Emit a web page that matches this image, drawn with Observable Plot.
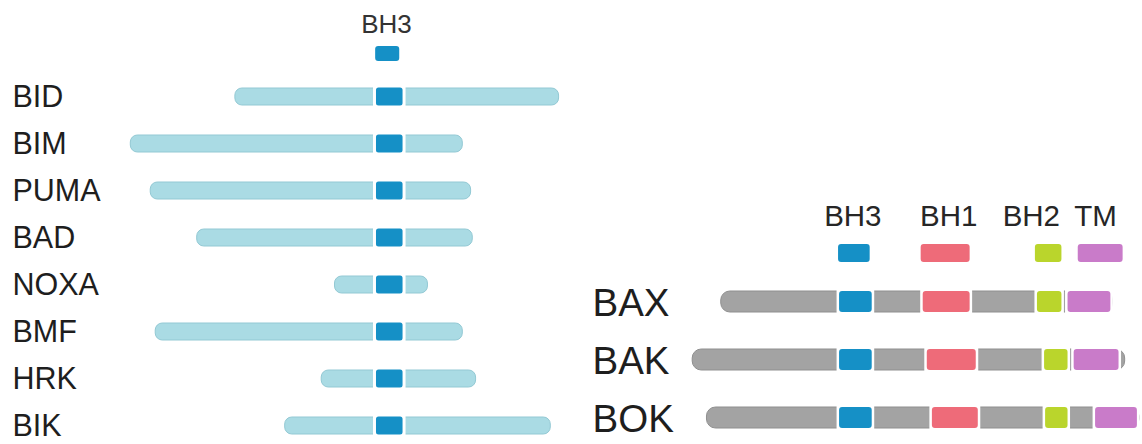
<!DOCTYPE html>
<html>
<head>
<meta charset="utf-8">
<script src="https://cdn.jsdelivr.net/npm/d3@7"></script>
<script src="https://cdn.jsdelivr.net/npm/@observablehq/plot@0.6"></script>
<style>
  html, body { margin: 0; padding: 0; background: #fff; }
  #chart { position: relative; width: 1142px; height: 444px; overflow: hidden; font-family: "Liberation Sans", Arial, sans-serif; }
  #chart svg { position: absolute; background: transparent; }
</style>
</head>
<body>
<div id="chart"></div>
<script>
// ---- Data (residue positions relative to the start of the BH3 motif) ----
// BH3-only proteins (left panel)
const bh3Proteins = ["BID", "BIM", "PUMA", "BAD", "NOXA", "BMF", "HRK", "BIK"];
const bh3Start    = [-85, -148, -136, -108, -25, -133, -33, -55];
const bh3End      = [110, 52, 57, 58, 31, 52, 60, 105];
const bh3MotifStart = [0, 0, 0, 0, 0, 0, 0, 0];
const bh3MotifEnd   = [16, 16, 16, 16, 16, 16, 16, 16];
const bh3KeyLabel = ["BH3"];
const bh3KeyStart = [-0.5];
const bh3KeyEnd   = [14];
const bh3KeyLabelPos = [6];

// Multi-domain effector proteins (right panel)
const multiProteins = ["BAX", "BAK", "BOK"];
const multiStart = [-58, -72, -65];
const multiEnd   = [134, 140, 147];
const domainNames  = ["BH3", "BH1", "BH2", "TM"];
const domainColors = ["#1590c6", "#ee6b79", "#bad52c", "#c97bc9"];
const baxDomainStart = [0, 41, 97, 112];
const baxDomainEnd   = [16, 64, 109, 133];
const bakDomainStart = [0, 43, 100.5, 115];
const bakDomainEnd   = [16, 67, 112, 137];
const bokDomainStart = [0, 45.5, 101, 125.5];
const bokDomainEnd   = [16, 68, 112, 146];
const keyDomainStart = [-0.5, 40, 96, 117];
const keyDomainEnd   = [15, 64, 109, 139];
const keyLabelPos    = [6.5, 53.5, 94, 125.5];

// ---- Colours ----
const lightBlue = "#aadbe4", lightBlueEdge = "#93c9d4";
const grey = "#a3a3a3", greyEdge = "#8f8f8f";
const font = "Liberation Sans, Arial, Helvetica, sans-serif";

// ---- Tables built from the arrays ----
const leftRows = bh3Proteins.map((p, i) => ({protein: p, start: bh3Start[i], end: bh3End[i]}));
const leftMotifs = bh3Proteins.map((p, i) => ({protein: p, start: bh3MotifStart[i], end: bh3MotifEnd[i]}));
const leftKey = bh3KeyLabel.map((d, i) => ({name: d, row: "key", start: bh3KeyStart[i], end: bh3KeyEnd[i], pos: bh3KeyLabelPos[i]}));

const rightRows = multiProteins.map((p, i) => ({protein: p, start: multiStart[i], end: multiEnd[i]}));
const domStarts = {BAX: baxDomainStart, BAK: bakDomainStart, BOK: bokDomainStart};
const domEnds   = {BAX: baxDomainEnd, BAK: bakDomainEnd, BOK: bokDomainEnd};
const rightDomains = multiProteins.flatMap(p => domainNames.map((d, j) => ({protein: p, domain: d, start: domStarts[p][j], end: domEnds[p][j]})));
const rightKey = domainNames.map((d, j) => ({domain: d, row: "key", start: keyDomainStart[j], end: keyDomainEnd[j], pos: keyLabelPos[j]}));

const colorScale = {domain: domainNames, range: domainColors};
const leftX = {domain: [-226.5, 122.9], axis: null};
const rightX = {domain: [-127, 148.5], axis: null};
const base = {marginLeft: 0, marginRight: 0, marginTop: 0, marginBottom: 0, style: {fontFamily: font, background: "transparent"}};

const chart = document.getElementById("chart");
function place(svg, left, top) { svg.style.left = left + "px"; svg.style.top = top + "px"; chart.appendChild(svg); }

// Left key (BH3)
place(Plot.plot({
  ...base, width: 580, height: 70,
  x: leftX,
  y: {type: "band", domain: ["key"], range: [46, 61], padding: 0, axis: null},
  marks: [
    Plot.barX(leftKey, {x1: "start", x2: "end", y: "row", fill: "#1590c6", rx: 3}),
    Plot.text(leftKey, {x: "pos", y: "row", text: "name", dy: -29.5, fontSize: 26, fill: "#333", fontFamily: font})
  ]
}), 0, 0);

// Left panel: BH3-only proteins
place(Plot.plot({
  ...base, width: 580, height: 374,
  x: leftX,
  y: {type: "band", domain: bh3Proteins, range: [0.75, 380.75], paddingInner: 0.63, paddingOuter: 0.315, axis: null},
  marks: [
    Plot.barX(leftRows, {x1: "start", x2: "end", y: "protein", fill: lightBlue, stroke: lightBlueEdge, strokeWidth: 1, rx: 7}),
    Plot.barX(leftMotifs, {x1: "start", x2: "end", y: "protein", fill: "white", insetLeft: -3, insetRight: -3, insetTop: -1, insetBottom: -1}),
    Plot.barX(leftMotifs, {x1: "start", x2: "end", y: "protein", fill: "#1590c6", rx: 2.5, insetTop: -0.5, insetBottom: -0.5}),
    Plot.text(bh3Proteins, {y: d => d, frameAnchor: "left", dx: 12, textAnchor: "start", fontSize: 30.5, fill: "#1e1e1e", fontFamily: font})
  ]
}), 0, 70);

// Right key (BH3, BH1, BH2, TM)
place(Plot.plot({
  ...base, width: 562, height: 75,
  x: rightX,
  y: {type: "band", domain: ["key"], range: [49, 67], padding: 0, axis: null},
  color: colorScale,
  marks: [
    Plot.barX(rightKey, {x1: "start", x2: "end", y: "row", fill: "domain", rx: 3}),
    Plot.text(rightKey, {x: "pos", y: "row", text: "domain", dy: -37, fontSize: 29.5, fill: "#262626", fontFamily: font})
  ]
}), 580, 195);

// Right panel: BAX, BAK, BOK
place(Plot.plot({
  ...base, width: 562, height: 174,
  x: rightX,
  y: {type: "band", domain: multiProteins, range: [2.5, 176.5], paddingInner: 0.638, paddingOuter: 0.319, axis: null},
  color: colorScale,
  marks: [
    Plot.barX(rightRows, {x1: "start", x2: "end", y: "protein", fill: grey, stroke: greyEdge, strokeWidth: 1, rx: 9}),
    Plot.barX(rightDomains, {x1: "start", x2: "end", y: "protein", fill: "white", insetLeft: -2.5, insetRight: -2.5, insetTop: -1, insetBottom: -1}),
    Plot.barX(rightDomains, {x1: "start", x2: "end", y: "protein", fill: "domain", rx: 3}),
    Plot.text(multiProteins, {y: d => d, frameAnchor: "left", dx: 12, dy: 1.5, textAnchor: "start", fontSize: 38.5, fill: "#1e1e1e", fontFamily: font})
  ]
}), 580, 270);
</script>
</body>
</html>
